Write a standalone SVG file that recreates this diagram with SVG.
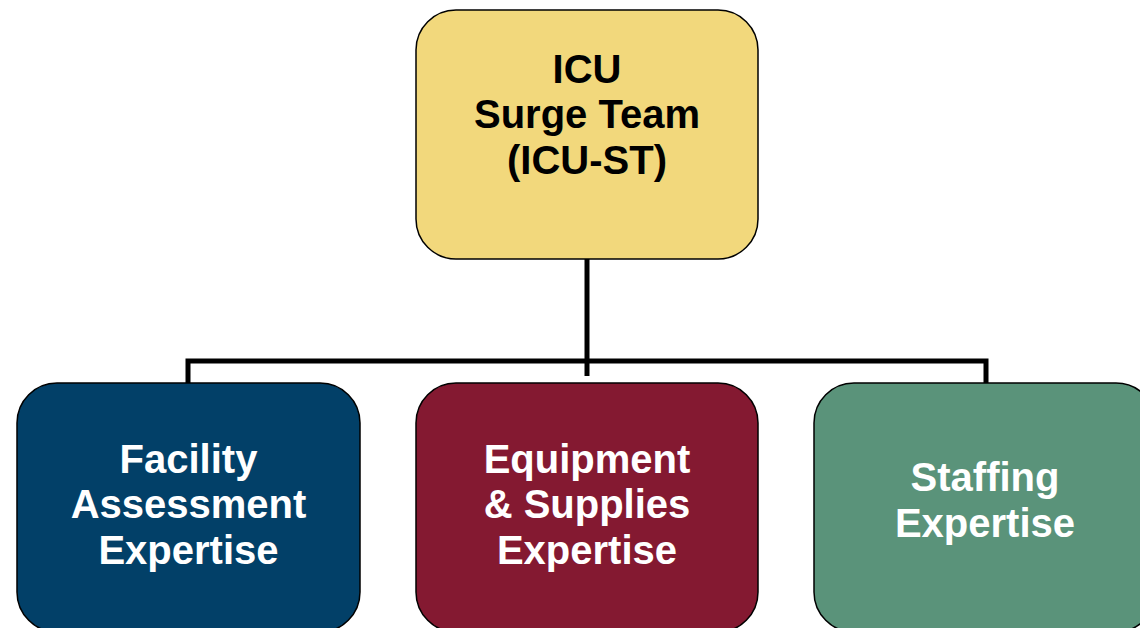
<svg xmlns="http://www.w3.org/2000/svg" width="1140" height="628" viewBox="0 0 1140 628">
  <style>
    .box { stroke: #000; stroke-width: 1.5; }
    .label { font-family: "Liberation Sans", Arial, sans-serif; font-weight: bold; font-size: 40px; text-anchor: middle; }
    .dark { fill: #000; }
    .light { fill: #fff; }
    .wire { fill: none; stroke: #000; stroke-width: 5; }
  </style>
  <rect width="1140" height="628" fill="#fff"/>

  <g id="connectors">
    <line class="wire" x1="587" y1="259" x2="587" y2="376"/>
    <polyline class="wire" points="188,383 188,361 986,361 986,383"/>
  </g>

  <g id="icu-surge-team">
    <rect class="box" x="416" y="10" width="342" height="249" rx="40" fill="#F2D87C"/>
    <text class="label dark" x="587" y="83">ICU</text>
    <text class="label dark" x="587" y="128">Surge Team</text>
    <text class="label dark" x="587" y="174">(ICU-ST)</text>
  </g>

  <g id="facility-assessment">
    <rect class="box" x="17" y="383" width="343" height="249" rx="40" fill="#024068"/>
    <text class="label light" x="188.5" y="473">Facility</text>
    <text class="label light" x="188.5" y="518">Assessment</text>
    <text class="label light" x="188.5" y="564">Expertise</text>
  </g>

  <g id="equipment-supplies">
    <rect class="box" x="416" y="383" width="342" height="249" rx="40" fill="#841931"/>
    <text class="label light" x="587" y="473">Equipment</text>
    <text class="label light" x="587" y="518">&amp; Supplies</text>
    <text class="label light" x="587" y="564">Expertise</text>
  </g>

  <g id="staffing">
    <rect class="box" x="814" y="383" width="342" height="249" rx="40" fill="#5A937A"/>
    <text class="label light" x="985" y="491">Staffing</text>
    <text class="label light" x="985" y="537">Expertise</text>
  </g>
</svg>
